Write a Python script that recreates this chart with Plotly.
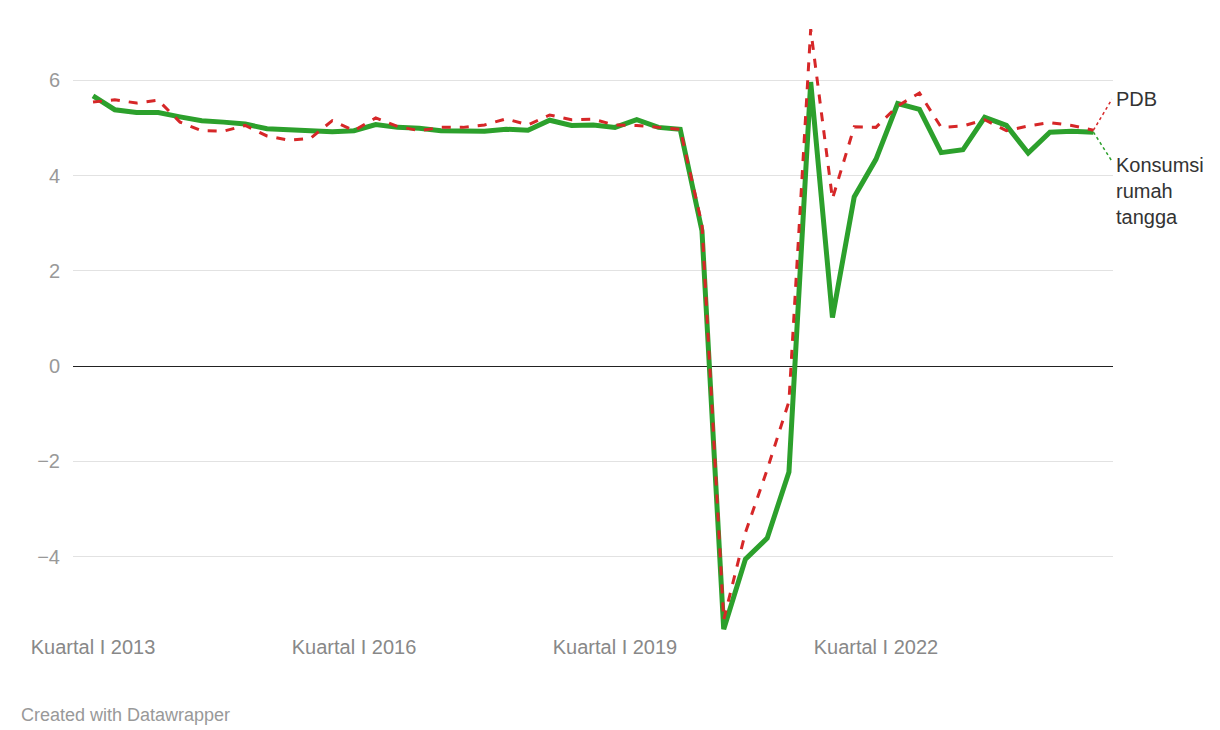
import plotly.graph_objects as go

konsumsi = [5.67,5.38,5.32,5.32,5.23,5.15,5.12,5.08,4.98,4.96,4.95,4.92,4.94,5.07,5.01,4.99,4.94,4.94,4.93,4.97,
            4.95,5.16,5.05,5.06,5.01,5.17,5.01,4.97,2.84,-5.52,-4.05,-3.61,-2.22,5.96,1.02,3.55,4.34,5.51,5.39,4.48,
            4.54,5.22,5.05,4.47,4.91,4.93,4.91]
pdb = [5.54,5.59,5.52,5.58,5.12,4.94,4.93,5.05,4.83,4.74,4.78,5.15,4.94,5.21,5.03,4.94,5.01,5.01,5.06,5.19,
       5.06,5.27,5.17,5.18,5.06,5.05,5.01,4.97,2.97,-5.32,-3.49,-2.17,-0.74,7.07,3.51,5.02,5.01,5.46,5.73,5.01,
       5.04,5.17,4.94,5.04,5.11,5.05,4.95]
x = list(range(len(pdb)))
xtick_vals = [0, 12, 24, 36]
xtick_text = ["Kuartal I 2013", "Kuartal I 2016", "Kuartal I 2019", "Kuartal I 2022"]
ytick_vals = [-4, -2, 0, 2, 4, 6]
ytick_text = ["−4", "−2", "0", "2", "4", "6"]

GREEN = "#2ca02c"
RED = "#d62728"
fig = go.Figure()
fig.add_trace(go.Scatter(x=x, y=konsumsi, mode="lines", line=dict(color=GREEN, width=5), name="Konsumsi"))
fig.add_trace(go.Scatter(x=x, y=pdb, mode="lines", line=dict(color=RED, width=3, dash="dash"), name="PDB"))

last = len(x) - 1
fig.add_shape(type="line", x0=last, y0=pdb[-1], x1=last + 0.85, y1=5.6, line=dict(color=RED, width=1.5, dash="dot"))
fig.add_shape(type="line", x0=last, y0=konsumsi[-1], x1=last + 0.85, y1=4.3, line=dict(color=GREEN, width=1.5, dash="dot"))
fig.add_annotation(x=last + 0.85, y=5.6, text="PDB", showarrow=False, xanchor="left", xshift=2,
                   font=dict(size=20, color="#333"))
fig.add_annotation(x=last + 0.85, y=4.5, text="Konsumsi<br>rumah<br>tangga", showarrow=False, xanchor="left",
                   yanchor="top", xshift=2, align="left", font=dict(size=20, color="#333"))
fig.add_annotation(xref="paper", yref="paper", x=-0.052, y=-0.115, text="Created with Datawrapper",
                   showarrow=False, xanchor="left", yanchor="top", font=dict(size=18, color="#999"))

fig.update_layout(
    width=1220, height=730, margin=dict(l=65, r=115, t=15, b=105, autoexpand=False),
    plot_bgcolor="white", paper_bgcolor="white", showlegend=False,
    font=dict(family="Liberation Sans, Arial, sans-serif"),
    xaxis=dict(range=[-0.92, 46.9], tickvals=xtick_vals, ticktext=xtick_text, showgrid=False,
               zeroline=False, tickfont=dict(size=20, color="#888"), ticks="", automargin=False),
    yaxis=dict(range=[-5.6, 7.2], tickvals=ytick_vals, ticktext=ytick_text, gridcolor="#e2e2e2",
               zeroline=True, zerolinecolor="#222", zerolinewidth=1.3, automargin=False,
               tickfont=dict(size=20, color="#999"), ticklabelstandoff=12),
)
fig.write_html("out.html")
